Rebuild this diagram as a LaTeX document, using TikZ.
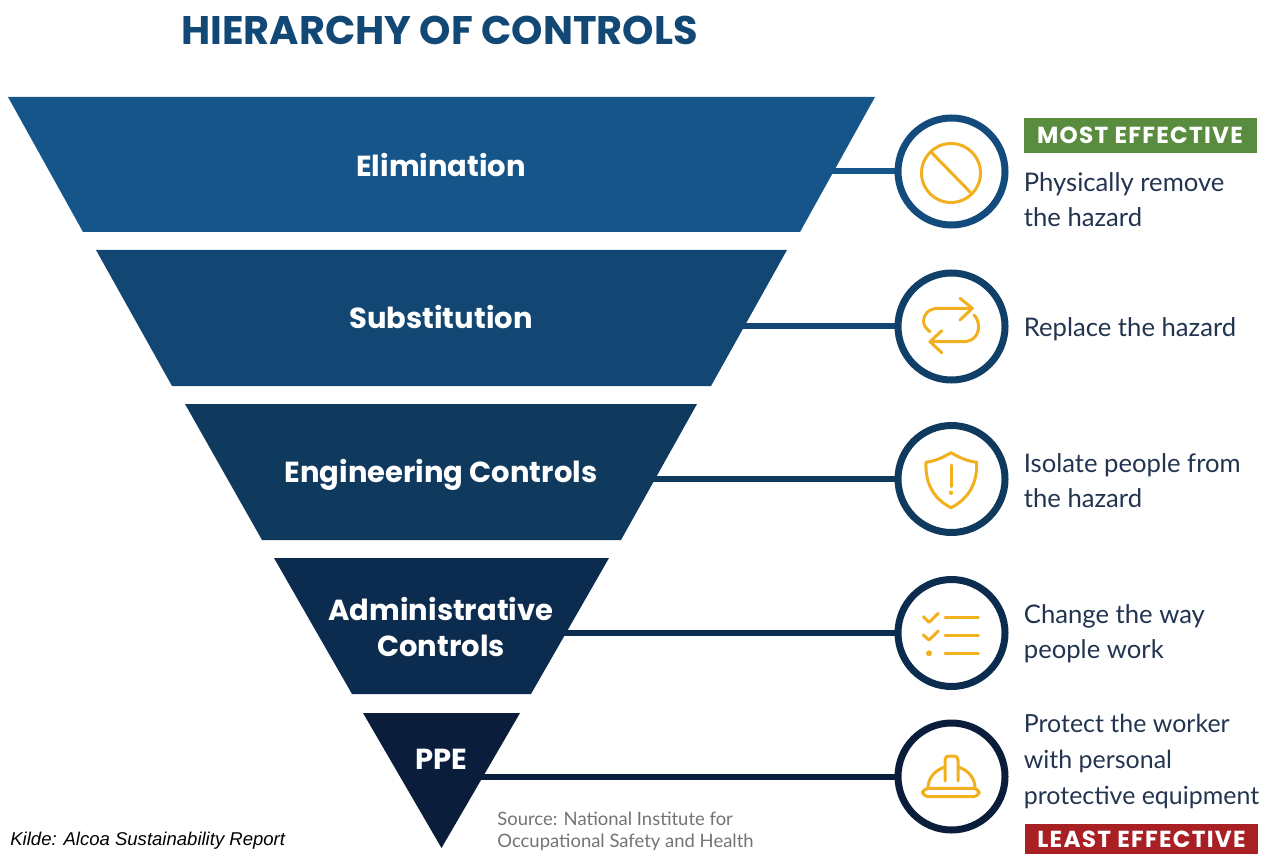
\documentclass[tikz,border=0pt]{standalone}
\usepackage{fontspec}
\setmainfont{Lato}
\newfontfamily\headfont{Poppins}
\newfontfamily\tagfont[LetterSpace=5.5]{Poppins}
\newfontfamily\kildefont{Liberation Sans}
\usetikzlibrary{arrows.meta,positioning,backgrounds}
\definecolor{navyA}{HTML}{15558A}
\definecolor{navyB}{HTML}{124673}
\definecolor{navyC}{HTML}{0F3A5E}
\definecolor{navyD}{HTML}{0B2C4E}
\definecolor{navyE}{HTML}{0A1E3C}
\definecolor{iconyellow}{HTML}{F2B01E}
\definecolor{tagred}{HTML}{A81F24}
\definecolor{taggreen}{HTML}{5A8C3F}
\definecolor{bodyink}{HTML}{22344F}
\tikzset{
	bandtext/.style={inner sep=0pt,text=white,align=center,
		font=\headfont\fontsize{16.5pt}{20.5pt}\selectfont\bfseries},
	ring/.style={circle,draw=#1,line width=7*0.02cm,fill=white,minimum size=107*0.02cm,inner sep=0pt},
	link/.style={draw=#1,line width=6*0.02cm},
	hazard/.style={align=left,inner sep=0pt,text=bodyink,font=\fontsize{14.6pt}{20pt}\selectfont},
	tagbox/.style={fill=#1,text=white,minimum height=35*0.02cm,minimum width=233*0.02cm,inner sep=0pt,
		font=\tagfont\fontsize{13.2pt}{16pt}\selectfont\bfseries},
	icon/.style={draw=iconyellow,line width=3*0.02cm,line cap=round,line join=round}
}
\begin{document}
\begin{tikzpicture}[x=0.02cm,y=-0.02cm]
	\useasboundingbox (0,0) rectangle (1266,854);

	\node[text=navyA!85!black,inner sep=0pt,font=\headfont\fontsize{22.7pt}{27pt}\selectfont\bfseries] (title) at (439.5,30) {HIERARCHY OF CONTROLS};

	% pyramid
	\fill[navyA] (8,97) -- (875,97) -- (800,232) -- (83,232) -- cycle;
	\fill[navyB] (96,250) -- (787,250) -- (711,386) -- (172,386) -- cycle;
	\fill[navyC] (185,404) -- (697,404) -- (621,540) -- (262,540) -- cycle;
	\fill[navyD] (274,558) -- (609,558) -- (531,694) -- (352,694) -- cycle;
	\fill[navyE] (363,713) -- (520,713) -- (441.5,848) -- cycle;
	\node[bandtext] (elim) at (441,165) {Elimination};
	\node[bandtext] (subst) at (441,317) {Substitution};
	\node[bandtext] (engin) at (441,475) {Engineering Controls};
	\node[bandtext] (admin) at (441,627) {Administrative\\Controls};
	\node[bandtext] (ppe) at (441.5,759) {PPE};

	% circles
	\node[ring=navyA!90!black] (c1) at (951.5,171.5) {};
	\node[ring=navyB!90!black] (c2) at (951.5,326.5) {};
	\node[ring=navyC] (c3) at (951.5,479) {};
	\node[ring=navyD] (c4) at (951.5,633) {};
	\node[ring=navyE] (c5) at (951.5,776.5) {};

	\begin{pgfonlayer}{background}
		\draw[link=navyA] (elim |- c1.west) -- (c1.west);
		\draw[link=navyB] (subst |- c2.west) -- (c2.west);
		\draw[link=navyC] (engin |- c3.west) -- (c3.west);
		\draw[link=navyD] (admin |- c4.west) -- (c4.west);
		\draw[link=navyE] (ppe |- c5.west) -- (c5.west);
	\end{pgfonlayer}

	% icons
	\draw[icon] (951,173) circle (29.5);
	\draw[icon] (932,153) -- (970,192);

	\draw[icon] (960,298.3) -- (972.3,308.3) -- (960,320);
	\draw[icon] (972,308.3) -- (939,308.3) .. controls (929,308.3) and (923.5,314) .. (923.5,321) .. controls (923.5,325) and (926,329) .. (930,331.7);
	\draw[icon] (941.7,330.7) -- (930,341.7) -- (941.7,352.7);
	\draw[icon] (930,341.7) -- (963,341.7) .. controls (973,341.7) and (978.5,335) .. (978.5,327) .. controls (978.5,322) and (977,318) .. (974,315);

	\draw[icon] (951,452.7) .. controls (942,458) and (935,461) .. (926,462.3) .. controls (925,484) and (934,499) .. (951,507.7) .. controls (968,499) and (977.5,484) .. (976.7,462.3) .. controls (967,461) and (960,458) .. (951,452.7) -- cycle;
	\draw[icon] (951,465) -- (951,486.7);
	\fill[iconyellow] (951,492.7) circle (2.2);

	\draw[icon] (923.3,616.7) -- (929,622.3) -- (938.3,613.3);
	\draw[icon] (945,617.3) -- (978.3,617.3);
	\draw[icon] (923.3,635) -- (929,640) -- (938.3,631);
	\draw[icon] (945,635) -- (978.3,635);
	\fill[iconyellow] (929,653.3) circle (3);
	\draw[icon] (945,653) -- (978.3,653);

	\draw[icon,rounded corners=3] (922.7,788.3) rectangle (979,796.7);
	\draw[icon] (928,788) .. controls (928,778) and (935,770) .. (945,767);
	\draw[icon] (975,788) .. controls (975,778) and (968,770) .. (958,767);
	\draw[icon] (945,781) -- (945,760) .. controls (945,757) and (947,756) .. (949,756) -- (954,756) .. controls (956,756) and (958,757) .. (958,760) -- (958,781);

	% right column
	\node[tagbox=taggreen] (most) at (1140,135.5) {MOST EFFECTIVE};
	\node[hazard,right=15*0.02cm of c1,yshift=-28*0.02cm] (t1) {Physically remove\\the hazard};
	\node[hazard,right=15*0.02cm of c2,yshift=-3*0.02cm] (t2) {Replace the hazard};
	\node[hazard,right=15*0.02cm of c3,yshift=-1.5*0.02cm] (t3) {Isolate people from\\the hazard};
	\node[hazard,right=15*0.02cm of c4,yshift=-1*0.02cm] (t4) {Change the way\\people work};
	\node[hazard,right=15*0.02cm of c5,yshift=15*0.02cm,font=\fontsize{14.2pt}{20.4pt}\selectfont] (t5) {Protect the worker\\with personal\\protective equipment};
	\node[tagbox=tagred,minimum height=30*0.02cm] (least) at (1141.5,839) {LEAST EFFECTIVE};

	\node[anchor=west,inner sep=0pt,text=black!55,align=left,font=\fontsize{10.5pt}{12.5pt}\selectfont] (source) at (497,831) {Source: National Institute for\\Occupational Safety and Health};
	\node[anchor=west,inner sep=0pt,font=\kildefont\itshape\fontsize{10.55pt}{13pt}\selectfont] (kilde) at (10,841) {Kilde: Alcoa Sustainability Report};
\end{tikzpicture}
\end{document}
